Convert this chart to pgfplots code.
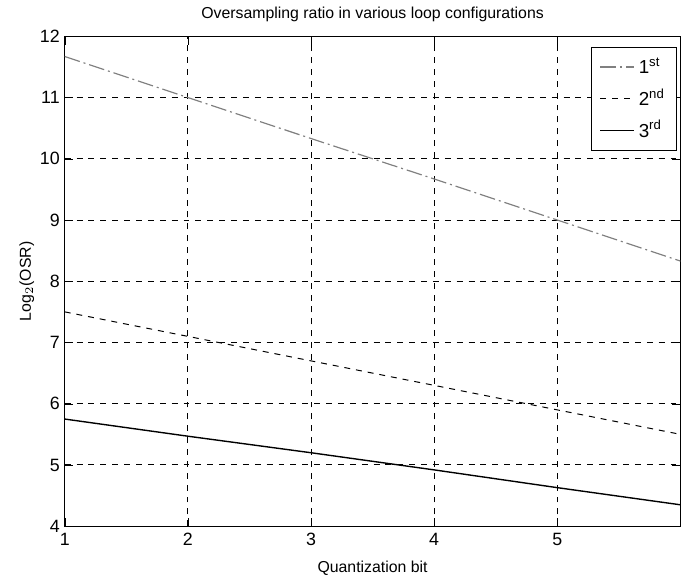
\documentclass[border=0pt]{standalone}
\usepackage{pgfplots}
\pgfplotsset{compat=1.18}
\usepackage{fontspec}
\setmainfont{Liberation Sans}
\begin{document}
\begin{tikzpicture}
\begin{axis}[
  scale only axis,
  width=311pt, height=247.5pt,
  xmin=1, xmax=6, ymin=4, ymax=12,
  xtick={1,2,3,4,5,6},
  xticklabels={1,2,3,4,5,},
  ytick={4,5,...,12},
  grid=major,
  major grid style={black, dashed, line width=0.5pt},
  axis line style={black, line width=0.7pt},
  tick style={black},
  tick align=inside,
  /pgf/number format/assume math mode=true,
  ticklabel style={font=\fontsize{9}{11}\selectfont},
  yticklabel style={xshift=1pt},
  title={Oversampling ratio in various loop configurations},
  title style={font=\fontsize{8}{10}\selectfont, yshift=-2pt},
  xlabel={Quantization bit},
  ylabel={Log$_2$(OSR)},
  label style={font=\fontsize{8}{10}\selectfont},
  xlabel style={yshift=-1pt},
  ylabel style={yshift=-4pt},
  legend style={at={(rel axis cs:0.995,0.978)}, anchor=north east, draw=black, line width=0.6pt,
    font=\fontsize{9.5}{11}\selectfont, row sep=2pt, inner xsep=4pt, inner ysep=3pt, legend cell align=left},
]
\addplot[gray, line width=0.6pt, dash pattern=on 8pt off 2pt on 1pt off 2pt] coordinates {(1,11.67) (2,11.0) (3,10.33) (4,9.67) (5,9.0) (6,8.33)};
\addlegendentry{1\textsuperscript{st}}
\addplot[black, line width=0.5pt, dash pattern=on 3pt off 3pt] coordinates {(1,7.5) (2,7.1) (3,6.7) (4,6.3) (5,5.9) (6,5.5)};
\addlegendentry{2\textsuperscript{nd}}
\addplot[black, line width=0.7pt] coordinates {(1,5.75) (2,5.47) (3,5.2) (4,4.92) (5,4.63) (6,4.35)};
\addlegendentry{3\textsuperscript{rd}}
\end{axis}
\path ([xshift=-6.5pt]current axis.outer west) circle (0pt);
\end{tikzpicture}
\end{document}
